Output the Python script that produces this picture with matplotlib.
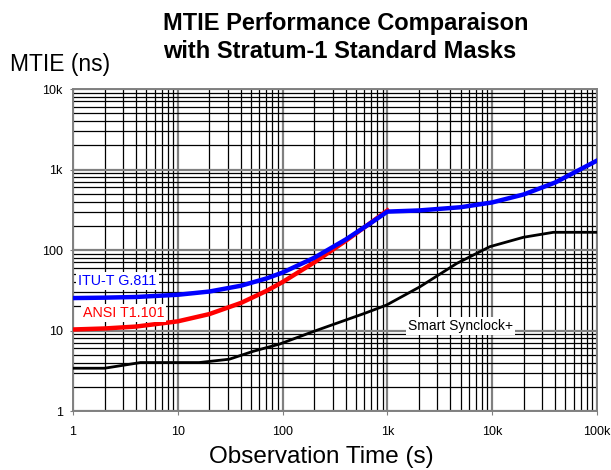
import matplotlib
matplotlib.use("Agg")
import matplotlib.pyplot as plt
from matplotlib.ticker import FixedLocator, NullFormatter

plt.rcParams["font.family"] = ["Liberation Sans", "DejaVu Sans"]

# MTIE masks and measured curve (tau in s, MTIE in ns)
itu_tau = [1, 2, 4, 10, 20, 40, 70, 100, 200, 400, 700, 1000, 2000, 5000, 10000, 20000, 40000, 100000]
itu_mtie = [25.3, 25.6, 26.1, 27.8, 30.5, 36, 44.3, 52.5, 80, 135, 218, 300, 310, 340, 390, 490, 690, 1290]

ansi_tau = [1, 2, 4, 10, 20, 40, 70, 100, 200, 400, 700, 1000]
ansi_mtie = [10.3, 10.6, 11.2, 13, 16, 22, 31, 40, 70, 130, 220, 310]

sync_tau = [1, 2, 4.4, 16, 31, 52, 94, 196, 611, 980, 2050, 4580, 9500, 19900, 38400, 100000]
sync_mtie = [3.4, 3.4, 4.0, 4.0, 4.4, 5.5, 6.8, 9.7, 16.4, 20.7, 35, 68, 110, 144, 166, 166]

x_ticks = [1, 10, 100, 1000, 10000, 100000]
x_labels = ["1", "10", "100", "1k", "10k", "100k"]
y_ticks = [1, 10, 100, 1000, 10000]
y_labels = ["1", "10", "100", "1k", "10k"]

fig = plt.figure(figsize=(6.11, 4.70), dpi=100)
ax = fig.add_axes([0.1195, 0.1255, 0.8575, 0.6851])
ax.set_xscale("log")
ax.set_yscale("log")
ax.set_xlim(1, 100000)
ax.set_ylim(1, 10000)

# grid: decades gray, minor black
ax.xaxis.set_minor_locator(FixedLocator([m * 10 ** d for d in range(5) for m in range(2, 10)]))
ax.yaxis.set_minor_locator(FixedLocator([m * 10 ** d for d in range(4) for m in range(2, 10)]))
ax.xaxis.set_minor_formatter(NullFormatter())
ax.yaxis.set_minor_formatter(NullFormatter())
ax.grid(which="minor", color="black", linewidth=0.9)
ax.grid(which="major", color="#808080", linewidth=1.6)
ax.set_axisbelow(True)

ax.set_xticks(x_ticks, x_labels)
ax.set_yticks(y_ticks, y_labels)
ax.tick_params(axis="x", which="major", length=3, color="#808080", labelsize=9, pad=8)
ax.tick_params(axis="y", which="major", length=2.5, color="#808080", labelsize=9, pad=5)
ax.tick_params(which="minor", length=0)
for s in ax.spines.values():
    s.set_color("#808080")
    s.set_linewidth(1.4)

ax.plot(sync_tau, sync_mtie, color="black", linewidth=2.0, zorder=3)
ax.plot(ansi_tau, ansi_mtie, color="#ff0000", linewidth=3.2, zorder=4)
ax.plot(itu_tau, itu_mtie, color="#0000ff", linewidth=3.2, zorder=5)

box = dict(facecolor="white", edgecolor="none", pad=1.5)
ax.text(1.12, 41, "ITU-T G.811", color="#0000ff", fontsize=10.3, ha="left", va="center", bbox=box, zorder=6)
ax.text(1.24, 16.6, "ANSI T1.101", color="#ff0000", fontsize=10.3, ha="left", va="center", bbox=box, zorder=6)
ax.text(1573, 11.4, "Smart Synclock+", color="black", fontsize=10, ha="left", va="center", bbox=box, zorder=6)

fig.text(0.2668, 1 - 30 / 470, "MTIE Performance Comparaison",
         ha="left", va="baseline", fontsize=17, fontweight="bold")
fig.text(0.2668, 1 - 58 / 470, "with Stratum-1 Standard Masks",
         ha="left", va="baseline", fontsize=17, fontweight="bold")
fig.text(0.016, 1 - 71 / 470, "MTIE (ns)", ha="left", va="baseline", fontsize=16.5)
fig.text(0.526, 6.5 / 470, "Observation Time (s)", ha="center", va="baseline", fontsize=17.5)

fig.savefig("out.png", dpi=100)
